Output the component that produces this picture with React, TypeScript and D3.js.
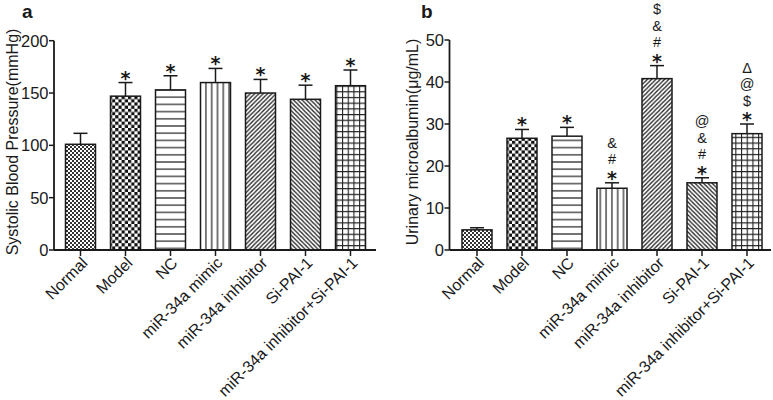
import React from "react";
import * as d3 from "d3";

const categories = [
  "Normal",
  "Model",
  "NC",
  "miR-34a mimic",
  "miR-34a inhibitor",
  "Si-PAI-1",
  "miR-34a inhibitor+Si-PAI-1",
];
const patternIds = ["fineChk", "coarseChk", "hLines", "vLines", "diagUp", "diagDown", "grid"];

const sbpMean = [101, 147, 153, 160, 150, 144, 157];
const sbpErr = [10.5, 13, 13.5, 13.5, 13, 13.5, 15];
const sbpMarks = [[], ["*"], ["*"], ["*"], ["*"], ["*"], ["*"]];
const sbpTicks = [0, 50, 100, 150, 200];

const malbMean = [4.8, 26.6, 27.1, 14.7, 40.8, 16.0, 27.7];
const malbErr = [0.5, 2.1, 2.1, 1.3, 3.1, 1.2, 2.3];
const malbMarks = [[], ["*"], ["*"], ["*", "#", "&"], ["*", "#", "&", "$"], ["*", "#", "&", "@"], ["*", "$", "@", "Δ"]];
const malbTicks = [0, 10, 20, 30, 40, 50];

const FONT = "'Liberation Sans', Arial, Helvetica, sans-serif";
const STAR_FONT = "'DejaVu Sans', 'Liberation Sans', sans-serif";
const INK = "#1a1a1a";

type PanelProps = {
  letter: string;
  letterX: number;
  yLabel: string;
  yLabelX: number;
  yLabelY: number;
  axisX: number;
  axisEnd: number;
  bandRange: [number, number];
  yMax: number;
  yTopPx: number;
  means: number[];
  errs: number[];
  marks: string[][];
  ticks: number[];
};

function Panel(p: PanelProps) {
  const x = d3
    .scaleBand<string>()
    .domain(categories)
    .range(p.bandRange)
    .paddingInner(1 / 3)
    .paddingOuter(1 / 6);
  const y = d3.scaleLinear().domain([0, p.yMax]).range([250, p.yTopPx]);
  const y0 = y(0);
  const starFs = 19;
  const symFs = 14.5;
  return (
    <g fontFamily={FONT} fill={INK}>
      <text x={p.letterX} y={18} fontSize={19} fontWeight="bold">
        {p.letter}
      </text>
      <text
        transform={`translate(${p.yLabelX},${p.yLabelY}) rotate(-90)`}
        textAnchor="middle"
        fontSize={16}
      >
        {p.yLabel}
      </text>
      {categories.map((c, i) => {
        const bx = x(c)!;
        const bw = x.bandwidth();
        const cx = bx + bw / 2;
        const top = y(p.means[i]);
        const et = y(p.means[i] + p.errs[i]);
        return (
          <g key={c}>
            <rect
              x={bx}
              y={top}
              width={bw}
              height={y0 - top}
              fill={`url(#${patternIds[i]})`}
              stroke={INK}
              strokeWidth={1.5}
            />
            <line x1={cx} x2={cx} y1={top} y2={et} stroke={INK} strokeWidth={1.5} />
            <line x1={cx - 7} x2={cx + 7} y1={et} y2={et} stroke={INK} strokeWidth={1.5} />
            {p.marks[i].map((s, k) => {
              const isStar = s === "*";
              const baseline = isStar ? et - 9 + 0.58 * starFs : et - 18.5 - 16.5 * (k - 1);
              return (
                <text
                  key={k}
                  x={cx}
                  y={baseline}
                  textAnchor="middle"
                  fontSize={isStar ? starFs : symFs}
                  fontFamily={isStar ? STAR_FONT : FONT}
                  fontWeight={isStar ? "bold" : "normal"}
                >
                  {s}
                </text>
              );
            })}
            <line x1={cx} x2={cx} y1={y0} y2={y0 + 6} stroke={INK} strokeWidth={1.5} />
            <text
              transform={`translate(${cx + 4},${y0 + 10}) rotate(-45)`}
              textAnchor="end"
              dy="0.35em"
              fontSize={16}
            >
              {c}
            </text>
          </g>
        );
      })}
      <line x1={p.axisX} x2={p.axisX} y1={y(p.yMax)} y2={y0} stroke={INK} strokeWidth={1.8} />
      <line x1={p.axisX} x2={p.axisEnd} y1={y0} y2={y0} stroke={INK} strokeWidth={1.8} />
      {p.ticks.map((t) => (
        <g key={t}>
          <line x1={p.axisX - 5} x2={p.axisX} y1={y(t)} y2={y(t)} stroke={INK} strokeWidth={1.5} />
          <text x={p.axisX - 5.5} y={y(t)} dy="0.36em" textAnchor="end" fontSize={16.5}>
            {t}
          </text>
        </g>
      ))}
    </g>
  );
}

function Patterns() {
  const d = 4.3;
  return (
    <defs>
      <pattern id="fineChk" width={4} height={4} patternUnits="userSpaceOnUse">
        <rect width={4} height={4} fill="#fff" />
        <rect width={2} height={2} fill="#333" />
        <rect x={2} y={2} width={2} height={2} fill="#333" />
      </pattern>
      <pattern id="coarseChk" width={6.4} height={6.4} patternUnits="userSpaceOnUse">
        <rect width={6.4} height={6.4} fill="#fff" />
        <rect width={3.2} height={3.2} fill="#111" />
        <rect x={3.2} y={3.2} width={3.2} height={3.2} fill="#111" />
      </pattern>
      <pattern id="hLines" width={10} height={7.2} patternUnits="userSpaceOnUse">
        <rect width={10} height={7.2} fill="#fff" />
        <line x1={0} x2={10} y1={3.6} y2={3.6} stroke="#333" strokeWidth={1.3} />
      </pattern>
      <pattern id="vLines" width={5.8} height={10} patternUnits="userSpaceOnUse">
        <rect width={5.8} height={10} fill="#fff" />
        <line x1={2.9} x2={2.9} y1={0} y2={10} stroke="#333" strokeWidth={1.3} />
      </pattern>
      <pattern id="diagUp" width={d} height={d} patternUnits="userSpaceOnUse">
        <rect width={d} height={d} fill="#fff" />
        <path
          d={`M0,${d} L${d},0 M-1,1 L1,-1 M${d - 1},${d + 1} L${d + 1},${d - 1}`}
          stroke="#222"
          strokeWidth={1.3}
        />
      </pattern>
      <pattern id="diagDown" width={d} height={d} patternUnits="userSpaceOnUse">
        <rect width={d} height={d} fill="#fff" />
        <path
          d={`M0,0 L${d},${d} M-1,${d - 1} L1,${d + 1} M${d - 1},-1 L${d + 1},1`}
          stroke="#222"
          strokeWidth={1.3}
        />
      </pattern>
      <pattern id="grid" width={5.7} height={5.7} patternUnits="userSpaceOnUse">
        <rect width={5.7} height={5.7} fill="#fff" />
        <path d="M0,0.5 H5.7 M0.5,0 V5.7" stroke="#222" strokeWidth={1.2} />
      </pattern>
    </defs>
  );
}

export default function App() {
  return (
    <svg
      width={773}
      height={400}
      style={{ position: "absolute", left: 0, top: 0, background: "#fff" }}
    >
      <rect width={773} height={400} fill="#fff" />
      <Patterns />
      <Panel
        letter="a"
        letterX={22}
        yLabel="Systolic Blood Pressure(mmHg)"
        yLabelX={18}
        yLabelY={142}
        axisX={54}
        axisEnd={376}
        bandRange={[58, 373]}
        yMax={200}
        yTopPx={40.7}
        means={sbpMean}
        errs={sbpErr}
        marks={sbpMarks}
        ticks={sbpTicks}
      />
      <Panel
        letter="b"
        letterX={421}
        yLabel="Urinary microalbumin(μg/mL)"
        yLabelX={418}
        yLabelY={142}
        axisX={449.5}
        axisEnd={771}
        bandRange={[454.5, 769.5]}
        yMax={50}
        yTopPx={40}
        means={malbMean}
        errs={malbErr}
        marks={malbMarks}
        ticks={malbTicks}
      />
    </svg>
  );
}
